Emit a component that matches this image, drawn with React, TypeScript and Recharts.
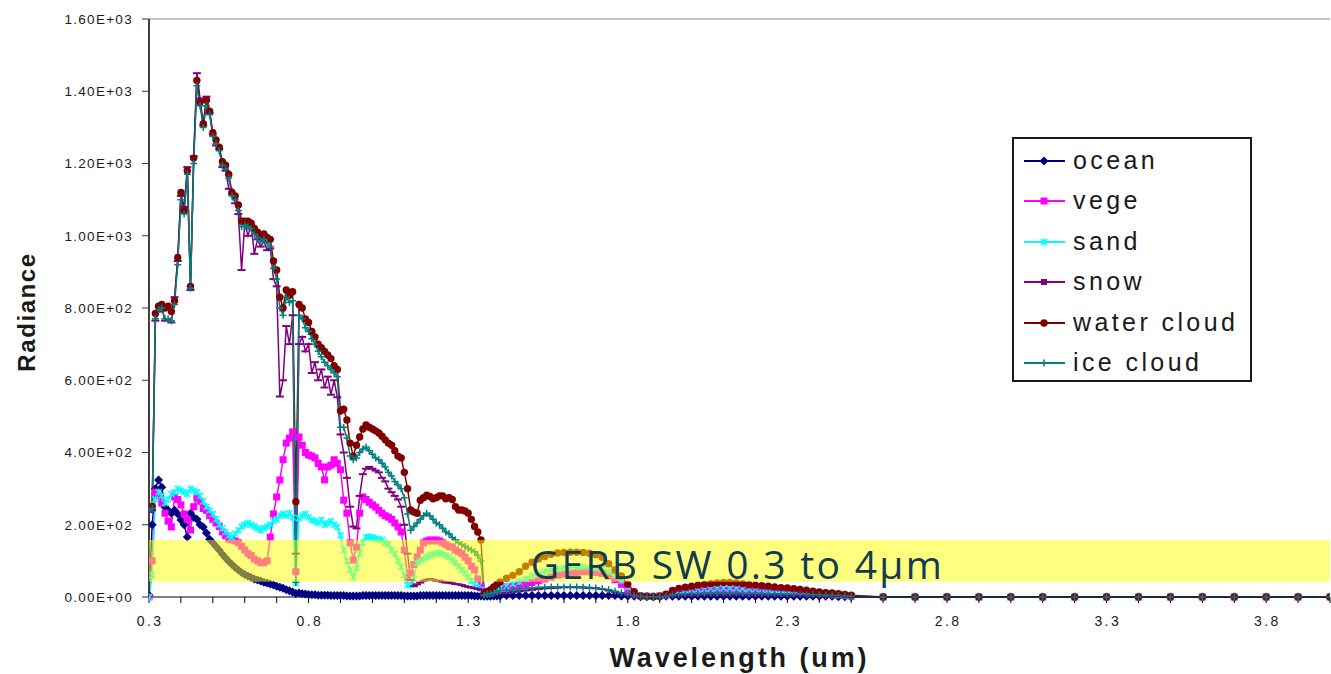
import React from "react";
import {
  LineChart,
  Line,
  XAxis,
  YAxis,
  ReferenceArea,
  ReferenceLine,
  Legend,
} from "recharts";

// wavelength grid (um): 0.01 steps to 1.4, 0.02 steps to 2.5, then 0.1 steps
const WAVELENGTH = [
  0.3, 0.31, 0.32, 0.33, 0.34, 0.35, 0.36, 0.37, 0.38, 0.39,
  0.4, 0.41, 0.42, 0.43, 0.44, 0.45, 0.46, 0.47, 0.48, 0.49,
  0.5, 0.51, 0.52, 0.53, 0.54, 0.55, 0.56, 0.57, 0.58, 0.59,
  0.6, 0.61, 0.62, 0.63, 0.64, 0.65, 0.66, 0.67, 0.68, 0.69,
  0.7, 0.71, 0.72, 0.73, 0.74, 0.75, 0.76, 0.77, 0.78, 0.79,
  0.8, 0.81, 0.82, 0.83, 0.84, 0.85, 0.86, 0.87, 0.88, 0.89,
  0.9, 0.91, 0.92, 0.93, 0.94, 0.95, 0.96, 0.97, 0.98, 0.99,
  1.0, 1.01, 1.02, 1.03, 1.04, 1.05, 1.06, 1.07, 1.08, 1.09,
  1.1, 1.11, 1.12, 1.13, 1.14, 1.15, 1.16, 1.17, 1.18, 1.19,
  1.2, 1.21, 1.22, 1.23, 1.24, 1.25, 1.26, 1.27, 1.28, 1.29,
  1.3, 1.31, 1.32, 1.33, 1.34, 1.35, 1.36, 1.37, 1.38, 1.39,
  1.4,
  1.42, 1.44, 1.46, 1.48, 1.5, 1.52, 1.54, 1.56, 1.58, 1.6,
  1.62, 1.64, 1.66, 1.68, 1.7, 1.72, 1.74, 1.76, 1.78, 1.8,
  1.82, 1.84, 1.86, 1.88, 1.9, 1.92, 1.94, 1.96, 1.98, 2.0,
  2.02, 2.04, 2.06, 2.08, 2.1, 2.12, 2.14, 2.16, 2.18, 2.2,
  2.22, 2.24, 2.26, 2.28, 2.3, 2.32, 2.34, 2.36, 2.38, 2.4,
  2.42, 2.44, 2.46, 2.48, 2.5,
  2.6, 2.7, 2.8, 2.9, 3.0, 3.1, 3.2, 3.3, 3.4, 3.5, 3.6, 3.7, 3.8, 3.9, 4.0,
];

const OCEAN = [
  5, 200, 300, 324, 304, 249, 240, 232, 240, 230,
  213, 200, 166, 232, 220, 215, 200, 194, 177, 160,
  150, 140, 130, 118, 108, 98, 90, 82, 75, 68,
  62, 58, 54, 50, 47, 44, 41, 39, 36, 33,
  30, 27, 24, 20, 17, 14, 10, 11, 9, 8,
  7, 6, 6, 5, 5, 5, 5, 4, 4, 4,
  4, 4, 3, 3, 3, 3, 3, 4, 4, 4,
  4, 4, 4, 4, 4, 4, 4, 4, 4, 4,
  3, 3, 3, 3, 3, 4, 4, 4, 4, 4,
  4, 4, 4, 4, 4, 4, 4, 4, 4, 4,
  4, 4, 3, 3, 3, 2, 2, 2, 3, 3,
  3,
  4, 4, 4, 4, 4, 4, 4, 4, 4, 4,
  4, 4, 4, 4, 4, 4, 4, 4, 3, 3,
  2, 1, 1, 1, 1, 2, 2, 2, 2, 2,
  2, 2, 2, 2, 2, 2, 2, 2, 2, 2,
  2, 2, 2, 2, 2, 2, 2, 2, 2, 2,
  2, 2, 1, 1, 1,
  0, 0, 0, 0, 0, 0, 0, 0, 0, 0, 0, 0, 0, 0, 0,
];

const VEGE = [
  0, 100, 290, 280, 260, 232, 210, 194, 277, 270,
  255, 230, 215, 185, 250, 275, 265, 245, 240, 225,
  215, 205, 195, 180, 170, 160, 158, 155, 150, 140,
  130, 120, 115, 105, 100, 95, 95, 100, 166, 230,
  277, 324, 380, 426, 440, 457, 70, 443, 420, 400,
  393, 390, 385, 370, 360, 324, 360, 365, 380, 370,
  352, 268, 232, 150, 102, 138, 232, 277, 270, 262,
  255, 249, 240, 232, 225, 221, 215, 205, 194, 180,
  130, 55, 66, 90, 111, 130, 150, 155, 158, 155,
  158, 155, 150, 145, 140, 138, 130, 125, 120, 110,
  100, 85, 75, 50, 28, 15, 12, 15, 18, 22,
  25,
  28, 30, 33, 36, 40, 45, 50, 55, 60, 63,
  66, 68, 70, 70, 68, 65, 58, 48, 35, 20,
  8, 3, 2, 2, 3, 6, 10, 13, 15, 16,
  17, 18, 19, 20, 20, 20, 20, 20, 19, 19,
  18, 18, 17, 16, 15, 14, 13, 12, 11, 10,
  9, 8, 6, 4, 2,
  0, 0, 0, 0, 0, 0, 0, 0, 0, 0, 0, 0, 0, 0, 0,
];

const SAND = [
  0, 60, 270, 290, 280, 260, 270, 285, 290, 300,
  295, 290, 285, 300, 295, 290, 280, 265, 250, 240,
  230, 215, 200, 190, 180, 170, 166, 175, 185, 195,
  200, 205, 200, 195, 190, 185, 190, 195, 200, 210,
  215, 225, 230, 225, 232, 220, 39, 218, 225, 230,
  220, 213, 210, 205, 213, 200, 205, 210, 200, 194,
  170, 130, 100, 75, 55, 80, 120, 150, 166, 166,
  165, 162, 160, 158, 150, 145, 130, 120, 100, 83,
  60, 33, 33, 50, 94, 100, 105, 111, 115, 118,
  120, 122, 118, 115, 110, 102, 95, 85, 75, 66,
  55, 45, 35, 28, 20, 10, 8, 10, 15, 20,
  25,
  30, 36, 42, 50, 58, 64, 70, 74, 77, 80,
  82, 83, 83, 82, 80, 77, 70, 60, 45, 28,
  10, 4, 2, 2, 3, 7, 12, 16, 18, 20,
  21, 22, 23, 24, 24, 24, 24, 23, 23, 22,
  21, 20, 19, 18, 17, 16, 15, 14, 13, 12,
  10, 9, 7, 5, 3,
  0, 0, 0, 0, 0, 0, 0, 0, 0, 0, 0, 0, 0, 0, 0,
];

const SNOW = [
  235, 240, 765, 790, 800, 765, 770, 760, 830, 930,
  1110, 1080, 1190, 850, 1220, 1450, 1380, 1305, 1385, 1340,
  1280, 1250, 1240, 1190, 1180, 1130, 1115, 1090, 1060, 905,
  1035, 1000, 1030, 950, 990, 970, 985, 960, 965, 880,
  860, 555, 600, 750, 700, 780, 120, 700, 720, 680,
  700, 620, 650, 600, 630, 580, 610, 560, 600, 553,
  450, 400, 330, 250, 195, 190, 280, 340, 355, 360,
  355, 350, 345, 330, 320, 300, 290, 280, 270, 250,
  200, 120, 47, 30, 35, 40, 45, 48, 50, 48,
  45, 45, 42, 40, 40, 38, 36, 35, 33, 30,
  28, 26, 24, 22, 20, 3, 4, 5, 6, 8,
  10,
  12, 14, 16, 18, 20, 22, 24, 25, 26, 27,
  27, 27, 26, 25, 24, 22, 18, 14, 10, 6,
  3, 1, 1, 1, 1, 2, 3, 4, 5, 5,
  6, 6, 6, 6, 6, 6, 6, 6, 5, 5,
  5, 5, 5, 4, 4, 4, 4, 3, 3, 3,
  3, 2, 2, 2, 1,
  0, 0, 0, 0, 0, 0, 0, 0, 0, 0, 0, 0, 0, 0, 0,
];

const WATER_CLOUD = [
  250, 250, 785, 805, 810, 800, 805, 790, 820, 940,
  1120, 1070, 1180, 860, 1215, 1430, 1370, 1310, 1375, 1345,
  1285, 1265, 1245, 1205, 1195, 1170, 1120, 1110, 1085, 1040,
  1040, 1040, 1035, 1020, 1010, 1000, 1005, 995, 990, 930,
  905, 830, 800, 850, 835, 845, 264, 810, 800, 770,
  760, 735, 720, 700, 690, 680, 670, 660, 640, 630,
  515, 520, 490, 426, 390, 420, 443, 465, 476, 470,
  465, 460, 454, 445, 435, 426, 420, 405, 390, 385,
  345, 300, 241, 235, 232, 268, 275, 282, 278, 272,
  275, 280, 280, 272, 275, 270, 250, 241, 241, 238,
  232, 215, 195, 180, 158, 10, 15, 20, 28, 35,
  42,
  52, 60, 70, 85, 96, 105, 112, 118, 122, 123,
  124, 124, 123, 121, 117, 110, 92, 75, 58, 35,
  15, 3, 2, 1, 2, 8, 18, 24, 27, 30,
  33, 35, 37, 39, 40, 40, 39, 37, 34, 33,
  31, 30, 28, 26, 25, 23, 21, 19, 16, 14,
  12, 11, 9, 7, 5,
  0, 0, 0, 0, 0, 0, 0, 0, 0, 0, 0, 0, 0, 0, 0,
];

const ICE_CLOUD = [
  240, 245, 770, 795, 800, 770, 770, 765, 810, 920,
  1100, 1060, 1170, 855, 1200, 1415, 1360, 1300, 1360, 1335,
  1275, 1255, 1235, 1195, 1185, 1160, 1110, 1100, 1070, 1025,
  1030, 1025, 1020, 1005, 995, 985, 990, 980, 970, 910,
  880, 800, 780, 830, 815, 820, 40, 780, 770, 745,
  735, 715, 700, 680, 665, 650, 640, 630, 620, 610,
  470, 470, 440, 390, 380, 385, 400, 410, 415, 405,
  395, 385, 380, 370, 360, 345, 335, 320, 310, 300,
  275, 230, 185, 195, 205, 215, 225, 232, 225, 215,
  205, 200, 190, 180, 175, 165, 158, 150, 145, 140,
  135, 130, 125, 115, 100, 5, 8, 10, 12, 15,
  18,
  18, 20, 22, 24, 25, 26, 27, 28, 28, 28,
  28, 28, 27, 26, 25, 23, 20, 16, 12, 8,
  4, 2, 1, 1, 1, 3, 6, 8, 9, 10,
  10, 11, 11, 11, 11, 11, 11, 10, 10, 10,
  10, 9, 9, 9, 8, 8, 8, 7, 7, 6,
  5, 5, 4, 3, 2,
  0, 0, 0, 0, 0, 0, 0, 0, 0, 0, 0, 0, 0, 0, 0,
];

const X_TICKS = [
  0.3, 0.4, 0.5, 0.6, 0.7, 0.8, 0.9, 1.0, 1.1, 1.2, 1.3, 1.4, 1.5, 1.6, 1.7,
  1.8, 1.9, 2.0, 2.1, 2.2, 2.3, 2.4, 2.5, 2.6, 2.7, 2.8, 2.9, 3.0, 3.1, 3.2,
  3.3, 3.4, 3.5, 3.6, 3.7, 3.8, 3.9, 4.0,
];
const X_LABELS = [0.3, 0.8, 1.3, 1.8, 2.3, 2.8, 3.3, 3.8];
const Y_TICKS = [0, 200, 400, 600, 800, 1000, 1200, 1400, 1600];

const BAND_LOW = 42;
const BAND_HIGH = 158;
const BAND_TEXT = "GERB SW 0.3 to 4\u03bcm";

const FONT = "'Liberation Sans', Arial, sans-serif";
const W = 1331;
const H = 674;

type Marker = "diamond" | "square" | "asterisk" | "dash" | "circle" | "plus";

const SERIES: { key: string; name: string; color: string; marker: Marker; values: number[] }[] = [
  { key: "ocean", name: "ocean", color: "#000080", marker: "diamond", values: OCEAN },
  { key: "vege", name: "vege", color: "#ff00ff", marker: "square", values: VEGE },
  { key: "sand", name: "sand", color: "#00ffff", marker: "asterisk", values: SAND },
  { key: "snow", name: "snow", color: "#800080", marker: "dash", values: SNOW },
  { key: "water", name: "water cloud", color: "#800000", marker: "circle", values: WATER_CLOUD },
  { key: "ice", name: "ice cloud", color: "#008080", marker: "plus", values: ICE_CLOUD },
];

const data = WAVELENGTH.map((w, i) => {
  const row: Record<string, number> = { w };
  SERIES.forEach((s) => {
    row[s.key] = s.values[i];
  });
  return row;
});

function drawMarker(kind: Marker, color: string, cx: number, cy: number, key?: string) {
  switch (kind) {
    case "diamond":
      return (
        <path key={key} d={`M${cx} ${cy - 4.5}L${cx + 4.5} ${cy}L${cx} ${cy + 4.5}L${cx - 4.5} ${cy}Z`} fill={color} />
      );
    case "square":
      return <rect key={key} x={cx - 3.5} y={cy - 3.5} width={7} height={7} fill={color} />;
    case "asterisk":
      return (
        <path
          key={key}
          d={`M${cx - 3} ${cy - 3}L${cx + 3} ${cy + 3}M${cx - 3} ${cy + 3}L${cx + 3} ${cy - 3}M${cx} ${cy - 3.5}V${cy + 3.5}`}
          stroke={color}
          strokeWidth={1.4}
          fill="none"
        />
      );
    case "dash":
      return <rect key={key} x={cx - 4} y={cy - 1} width={8} height={2} fill={color} />;
    case "circle":
      return <circle key={key} cx={cx} cy={cy} r={3.7} fill={color} />;
    case "plus":
      return (
        <path key={key} d={`M${cx - 3.5} ${cy}H${cx + 3.5}M${cx} ${cy - 3.5}V${cy + 3.5}`} stroke={color} strokeWidth={1.5} />
      );
  }
}

function sci(v: number) {
  const [m, e] = v.toExponential(2).split("e");
  return `${m}E${e[0]}${e.slice(1).padStart(2, "0")}`;
}

function YTick({ x, y, payload }: any) {
  return (
    <text x={x - 7} y={y} dy="0.36em" textAnchor="end" fontSize={13.5} letterSpacing={1.3} fill="#1a1a1a" fontFamily={FONT}>
      {sci(payload.value)}
    </text>
  );
}

function XTick({ x, y, payload }: any) {
  const v = payload.value as number;
  if (!X_LABELS.some((l) => Math.abs(l - v) < 1e-6)) return <g />;
  return (
    <text x={x + 1.2} y={y + 21} textAnchor="middle" fontSize={14} letterSpacing={2.4} fill="#1a1a1a" fontFamily={FONT}>
      {v.toFixed(1)}
    </text>
  );
}

function YTitle({ viewBox }: any) {
  const top = viewBox?.y ?? 19;
  const h = viewBox?.height ?? 578;
  const cx = 26;
  const cy = top + h / 2 + 4;
  return (
    <text
      x={cx}
      y={cy}
      transform={`rotate(-90 ${cx} ${cy})`}
      textAnchor="middle"
      dominantBaseline="central"
      fontSize={24}
      fontWeight="bold"
      letterSpacing={1.6}
      fill="#1a1a1a"
      fontFamily={FONT}
    >
      Radiance
    </text>
  );
}

function XTitle({ viewBox }: any) {
  const left = viewBox?.x ?? 149;
  const w = viewBox?.width ?? 1181;
  return (
    <text x={left + w / 2} y={667} textAnchor="middle" fontSize={27} fontWeight="bold" letterSpacing={2.9} fill="#1a1a1a" fontFamily={FONT}>
      Wavelength (um)
    </text>
  );
}

function BandLabel({ viewBox }: any) {
  const { x, y, width, height } = viewBox ?? { x: 149, y: 540, width: 1181, height: 42 };
  return (
    <text x={x + width / 2 - 2} y={y + height - 3} textAnchor="middle" fontSize={39} letterSpacing={2.3} fill="#123b50" fontFamily="'Open Sans', 'Noto Sans', sans-serif">
      {BAND_TEXT}
    </text>
  );
}

function LegendBox() {
  return (
    <div
      style={{
        position: "relative",
        width: 240,
        height: 245,
        boxSizing: "border-box",
        border: "2px solid #1a1a1a",
        background: "#fff",
        fontFamily: FONT,
      }}
    >
      {SERIES.map((s, i) => {
        const top = 22 + i * 40.4;
        return (
          <div key={s.key} style={{ position: "absolute", left: 0, top: top - 16, height: 32, width: 236 }}>
            <svg width={44} height={32} style={{ position: "absolute", left: 8, top: 0 }}>
              <line x1={2} y1={16} x2={43} y2={16} stroke={s.color} strokeWidth={2} />
              {s.marker === "dash" ? (
                <rect x={19} y={13} width={6} height={6} fill={s.color} />
              ) : (
                drawMarker(s.marker, s.color, 22, 16)
              )}
            </svg>
            <span
              style={{
                position: "absolute",
                left: 59,
                top: 0,
                lineHeight: "30px",
                fontSize: 25,
                letterSpacing: 3.4,
                color: "#1a1a1a",
                whiteSpace: "nowrap",
              }}
            >
              {s.name}
            </span>
          </div>
        );
      })}
    </div>
  );
}

export default function App() {
  return (
    <div style={{ position: "absolute", left: 0, top: 0, width: W, height: H, overflow: "hidden", background: "#fff" }}>
      <div style={{ position: "absolute", left: 0, top: 0 }}>
        <LineChart width={W} height={H} data={data} margin={{ top: 19, right: 1, bottom: 0, left: 0 }} style={{ fontFamily: FONT }}>
          <XAxis
            type="number"
            dataKey="w"
            domain={[0.3, 4.0]}
            ticks={X_TICKS}
            interval={0}
            allowDataOverflow
            height={77}
            tickSize={6}
            tick={<XTick />}
            tickLine={{ stroke: "#000" }}
            axisLine={{ stroke: "#000", strokeWidth: 1 }}
            label={<XTitle />}
          />
          <YAxis
            type="number"
            domain={[0, 1600]}
            ticks={Y_TICKS}
            interval={0}
            width={149}
            tickSize={7}
            tick={<YTick />}
            tickLine={{ stroke: "#333" }}
            axisLine={{ stroke: "#404040", strokeWidth: 2 }}
            label={<YTitle />}
          />
          <ReferenceLine y={1600} stroke="#8a8a8a" strokeWidth={1} />
          {SERIES.map((s) => (
            <Line
              key={s.key}
              type="linear"
              dataKey={s.key}
              name={s.name}
              stroke={s.color}
              strokeWidth={1.5}
              isAnimationActive={false}
              activeDot={false}
              dot={(p: any) =>
                p.cx == null || p.cy == null ? (
                  <g key={`${s.key}-${p.index}`} />
                ) : (
                  drawMarker(s.marker, s.color, p.cx, p.cy, `${s.key}-${p.index}`)
                )
              }
            />
          ))}
          <Legend
            layout="horizontal"
            verticalAlign="middle"
            align="center"
            wrapperStyle={{ left: 1012, top: 137, width: 240, height: 245 }}
            content={<LegendBox />}
          />
        </LineChart>
      </div>
      {/* translucent GERB band sits over the spectra, same scales as the main chart */}
      <div style={{ position: "absolute", left: 0, top: 0, pointerEvents: "none" }}>
        <LineChart width={W} height={H} data={data} margin={{ top: 19, right: 1, bottom: 0, left: 0 }}>
          <XAxis type="number" dataKey="w" domain={[0.3, 4.0]} allowDataOverflow height={77} tick={false} tickLine={false} axisLine={false} />
          <YAxis type="number" domain={[0, 1600]} width={149} tick={false} tickLine={false} axisLine={false} />
          <Line dataKey="ocean" stroke="none" dot={false} activeDot={false} isAnimationActive={false} legendType="none" />
          <ReferenceArea
            y1={BAND_LOW}
            y2={BAND_HIGH}
            fill="#ffff00"
            fillOpacity={0.5}
            stroke="none"
            label={<BandLabel />}
          />
        </LineChart>
      </div>
    </div>
  );
}
